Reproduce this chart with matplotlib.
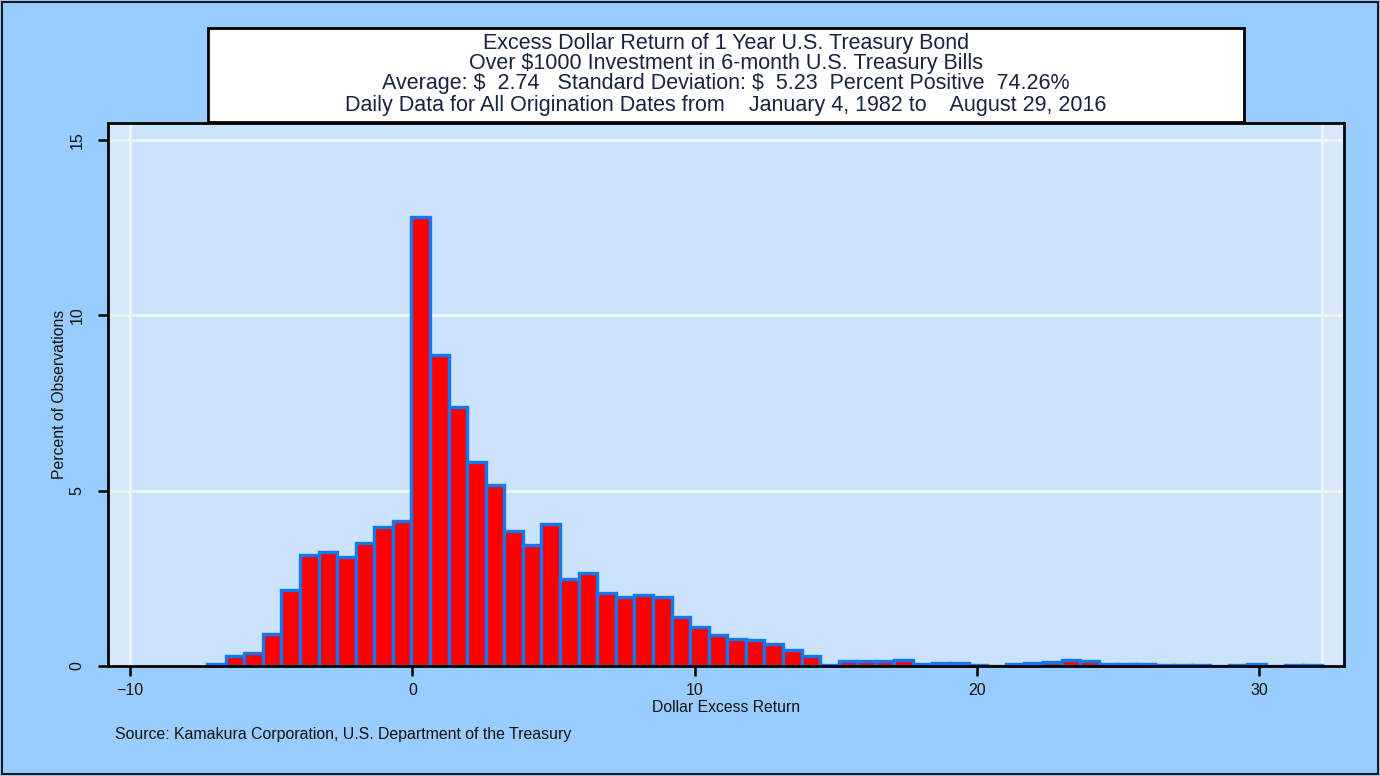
import matplotlib
matplotlib.use("Agg")
import matplotlib.pyplot as plt
from matplotlib.patches import Rectangle
import numpy as np

# ---- data ----
bin_start = -7.27
bin_width = 0.658
pct = [0.07, 0.29, 0.36, 0.90, 2.17, 3.17, 3.24, 3.11, 3.52, 3.95, 4.13,
       12.81, 8.86, 7.37, 5.81, 5.15, 3.85, 3.44, 4.06, 2.48, 2.64, 2.07,
       1.98, 2.03, 1.98, 1.40, 1.11, 0.87, 0.77, 0.73, 0.63, 0.47, 0.28,
       0.03, 0.13, 0.14, 0.13, 0.17, 0.05, 0.08, 0.09, 0.02, 0.00, 0.05,
       0.08, 0.12, 0.17, 0.15, 0.05, 0.07, 0.05, 0.03, 0.03, 0.02, 0.00,
       0.02, 0.07, 0.00, 0.02, 0.02]
xticks = [-10, 0, 10, 20, 30]
yticks = [0, 5, 10, 15]
title_lines = [
    "Excess Dollar Return of 1 Year U.S. Treasury Bond",
    "Over \\$1000 Investment in 6-month U.S. Treasury Bills",
    "Average: \\$  2.74   Standard Deviation: \\$  5.23  Percent Positive  74.26%",
    "Daily Data for All Origination Dates from    January 4, 1982 to    August 29, 2016",
]
xlabel = "Dollar Excess Return"
ylabel = "Percent of Observations"
source = "Source: Kamakura Corporation, U.S. Department of the Treasury"

plt.rcParams['font.family'] = ['Liberation Sans', 'DejaVu Sans']

W, H = 1380, 776
fig = plt.figure(figsize=(W / 100, H / 100), dpi=100)
fig.patch.set_facecolor('#99ccff')

# figure border
fig.add_artist(Rectangle((2 / W, 2 / H), 1 - 4 / W, 1 - 4 / H, transform=fig.transFigure,
                         fill=False, edgecolor='#1a1a1a', linewidth=1.5))

ax = fig.add_axes([108 / W, 1 - 666 / H, (1344 - 108) / W, (666 - 123) / H])
ax.set_facecolor('#cae3fb')
ax.set_xlim(-10.78, 33.0)
ax.set_ylim(0, 15.48)

n = len(pct)
edges = bin_start + bin_width * np.arange(n + 1)
right_edge = edges[-1]
ax.axvspan(-10.78, -10, color='#d6e8f8', zorder=0, lw=0)
ax.axvspan(right_edge, 33.0, color='#d6e8f8', zorder=0, lw=0)

for y in yticks[1:]:
    ax.axhline(y, color='#eef3f6', lw=2.2, zorder=1)
ax.axvline(-10, color='#eef3f6', lw=2.2, zorder=1)
ax.axvline(right_edge, color='#eef3f6', lw=2.2, zorder=1)

ax.bar(edges[:-1], pct, width=bin_width, align='edge', color='#ff0000',
       edgecolor='#0f78f2', linewidth=2.4, zorder=3)

for s in ax.spines.values():
    s.set_color('black')
    s.set_linewidth(2.0)
    s.set_zorder(5)

ax.set_xticks(xticks)
ax.set_yticks(yticks)
ax.set_yticklabels([str(v) for v in yticks], rotation=90, va='center')
ax.tick_params(axis='both', direction='out', length=7, width=1.8, color='black',
               labelsize=11.5, labelcolor='#111111')
ax.tick_params(axis='x', pad=5)
ax.tick_params(axis='y', pad=10)
ax.set_xlabel(xlabel, fontsize=11.3, color='#111111', labelpad=2)
ax.set_ylabel(ylabel, fontsize=11.3, color='#111111', labelpad=2)

# title box
tax = fig.add_axes([208 / W, 1 - 122 / H, (1244 - 208) / W, (122 - 28) / H])
tax.set_facecolor('white')
tax.set_xticks([])
tax.set_yticks([])
for s in tax.spines.values():
    s.set_color('black')
    s.set_linewidth(2.0)
ys = [43, 63, 84, 105]
for line, yp in zip(title_lines, ys):
    fig.text(726 / W, 1 - yp / H, line, ha='center', va='center',
             fontsize=15.5, color='#1a2340')

fig.text(115 / W, 1 - 735 / H, source, ha='left', va='center', fontsize=11.4, color='#111111')

fig.savefig('out.png', dpi=100, facecolor=fig.get_facecolor())
